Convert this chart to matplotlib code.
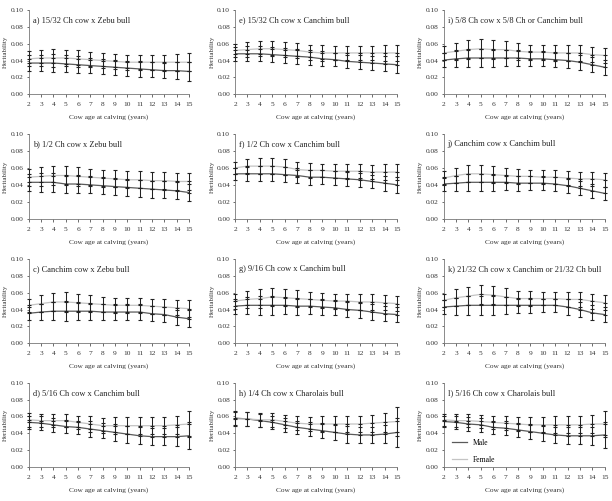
import numpy as np
import matplotlib
matplotlib.use("Agg")
import matplotlib.pyplot as plt

plt.rcParams.update({
    "font.family": "Liberation Serif",
    "axes.linewidth": 0.6,
})

ages = list(range(2, 16))

# ---------- data ----------
titles = {
    "a": "a) 15/32 Ch cow x Zebu bull",
    "b": "b) 1/2 Ch cow x Zebu bull",
    "c": "c) Canchim cow x Zebu bull",
    "d": "d) 5/16 Ch cow x Canchim bull",
    "e": "e) 15/32 Ch cow x Canchim bull",
    "f": "f) 1/2 Ch cow x Canchim bull",
    "g": "g) 9/16 Ch cow x Canchim bull",
    "h": "h) 1/4 Ch cow x Charolais bull",
    "i": "i) 5/8 Ch cow x 5/8 Ch or Canchim bull",
    "j": "j) Canchim cow x Canchim bull",
    "k": "k) 21/32 Ch cow x Canchim or 21/32 Ch bull",
    "l": "l) 5/16 Ch cow x Charolais bull",
}

male = {
    "a": [0.037, 0.037, 0.037, 0.036, 0.035, 0.034, 0.033, 0.032, 0.031, 0.030, 0.029, 0.028, 0.028, 0.027],
    "b": [0.043, 0.043, 0.043, 0.041, 0.041, 0.040, 0.039, 0.038, 0.037, 0.036, 0.035, 0.034, 0.033, 0.031],
    "c": [0.0355, 0.037, 0.038, 0.038, 0.038, 0.038, 0.037, 0.037, 0.037, 0.037, 0.035, 0.034, 0.031, 0.029],
    "d": [0.053, 0.052, 0.050, 0.048, 0.047, 0.045, 0.043, 0.041, 0.039, 0.037, 0.036, 0.036, 0.036, 0.037],
    "e": [0.048, 0.048, 0.048, 0.047, 0.046, 0.045, 0.044, 0.042, 0.041, 0.039, 0.038, 0.037, 0.036, 0.035],
    "f": [0.053, 0.053, 0.053, 0.053, 0.052, 0.051, 0.049, 0.049, 0.048, 0.047, 0.046, 0.044, 0.042, 0.040],
    "g": [0.044, 0.045, 0.045, 0.045, 0.045, 0.044, 0.044, 0.043, 0.042, 0.040, 0.039, 0.037, 0.035, 0.034],
    "h": [0.058, 0.057, 0.055, 0.053, 0.050, 0.047, 0.045, 0.043, 0.041, 0.039, 0.038, 0.038, 0.039, 0.041],
    "i": [0.0405, 0.042, 0.043, 0.043, 0.043, 0.043, 0.043, 0.042, 0.042, 0.041, 0.040, 0.038, 0.035, 0.032],
    "j": [0.041, 0.042, 0.043, 0.043, 0.043, 0.043, 0.042, 0.042, 0.042, 0.041, 0.039, 0.036, 0.033, 0.030],
    "k": [0.043, 0.044, 0.045, 0.045, 0.045, 0.045, 0.045, 0.045, 0.045, 0.045, 0.043, 0.040, 0.036, 0.034],
    "l": [0.054, 0.053, 0.051, 0.050, 0.047, 0.046, 0.044, 0.042, 0.040, 0.038, 0.037, 0.037, 0.037, 0.038],
}

female = {
    "a": [0.042, 0.043, 0.043, 0.043, 0.042, 0.041, 0.040, 0.039, 0.038, 0.038, 0.038, 0.038, 0.038, 0.038],
    "b": [0.049, 0.050, 0.051, 0.051, 0.050, 0.049, 0.048, 0.047, 0.046, 0.046, 0.045, 0.045, 0.044, 0.044],
    "c": [0.045, 0.047, 0.049, 0.049, 0.048, 0.047, 0.046, 0.045, 0.045, 0.045, 0.044, 0.043, 0.042, 0.041],
    "d": [0.056, 0.055, 0.055, 0.055, 0.053, 0.051, 0.049, 0.049, 0.049, 0.049, 0.049, 0.049, 0.050, 0.051],
    "e": [0.052, 0.053, 0.054, 0.054, 0.053, 0.052, 0.050, 0.049, 0.049, 0.049, 0.049, 0.049, 0.049, 0.049],
    "f": [0.060, 0.062, 0.062, 0.062, 0.061, 0.058, 0.057, 0.057, 0.056, 0.056, 0.056, 0.055, 0.055, 0.055],
    "g": [0.050, 0.052, 0.053, 0.055, 0.054, 0.053, 0.052, 0.051, 0.050, 0.050, 0.049, 0.049, 0.048, 0.047],
    "h": [0.057, 0.057, 0.056, 0.056, 0.054, 0.052, 0.051, 0.051, 0.051, 0.051, 0.051, 0.052, 0.053, 0.054],
    "i": [0.049, 0.051, 0.053, 0.054, 0.053, 0.053, 0.051, 0.050, 0.050, 0.049, 0.049, 0.049, 0.047, 0.046],
    "j": [0.048, 0.051, 0.053, 0.053, 0.052, 0.051, 0.050, 0.050, 0.049, 0.049, 0.048, 0.047, 0.047, 0.046],
    "k": [0.051, 0.054, 0.056, 0.058, 0.057, 0.055, 0.053, 0.053, 0.053, 0.053, 0.052, 0.052, 0.050, 0.048],
    "l": [0.056, 0.055, 0.055, 0.054, 0.053, 0.052, 0.051, 0.050, 0.050, 0.050, 0.050, 0.050, 0.051, 0.051],
}

err = {
    "a": [0.009, 0.010, 0.011, 0.010, 0.010, 0.009, 0.009, 0.009, 0.009, 0.009, 0.009, 0.009, 0.010, 0.011],
    "b": [0.010, 0.011, 0.011, 0.011, 0.011, 0.010, 0.010, 0.010, 0.010, 0.010, 0.010, 0.010, 0.010, 0.010],
    "c": [0.008, 0.010, 0.011, 0.012, 0.011, 0.010, 0.009, 0.009, 0.009, 0.009, 0.009, 0.009, 0.009, 0.010],
    "d": [0.008, 0.008, 0.008, 0.008, 0.008, 0.009, 0.009, 0.010, 0.010, 0.010, 0.010, 0.010, 0.011, 0.016],
    "e": [0.008, 0.009, 0.009, 0.009, 0.009, 0.009, 0.009, 0.009, 0.008, 0.008, 0.008, 0.008, 0.009, 0.010],
    "f": [0.007, 0.008, 0.009, 0.009, 0.009, 0.009, 0.009, 0.008, 0.008, 0.008, 0.008, 0.008, 0.009, 0.009],
    "g": [0.009, 0.010, 0.011, 0.011, 0.010, 0.010, 0.009, 0.009, 0.009, 0.009, 0.009, 0.009, 0.009, 0.009],
    "h": [0.008, 0.008, 0.008, 0.008, 0.008, 0.008, 0.008, 0.009, 0.009, 0.010, 0.010, 0.010, 0.011, 0.017],
    "i": [0.008, 0.010, 0.011, 0.011, 0.011, 0.010, 0.010, 0.009, 0.009, 0.009, 0.009, 0.009, 0.009, 0.009],
    "j": [0.008, 0.009, 0.010, 0.010, 0.010, 0.009, 0.009, 0.008, 0.008, 0.008, 0.008, 0.008, 0.008, 0.008],
    "k": [0.008, 0.010, 0.011, 0.011, 0.011, 0.010, 0.009, 0.009, 0.008, 0.008, 0.009, 0.009, 0.009, 0.009],
    "l": [0.007, 0.008, 0.008, 0.008, 0.008, 0.008, 0.008, 0.009, 0.009, 0.010, 0.010, 0.010, 0.011, 0.015],
}

yticks = [0.00, 0.02, 0.04, 0.06, 0.08, 0.10]

# panel grid: columns hold a-d, e-h, i-l
layout = [["a", "e", "i"], ["b", "f", "j"], ["c", "g", "k"], ["d", "h", "l"]]
col_left = [0.047, 0.384, 0.725]
col_w = [0.262, 0.265, 0.263]
row_bottom = [0.812, 0.563, 0.315, 0.068]
row_h = [0.168, 0.170, 0.168, 0.168]

MALE_C = "#5a5a5a"
FEMALE_C = "#c4c4c4"

fig = plt.figure(figsize=(6.12, 5.01), dpi=100)

for r, row in enumerate(layout):
    for c, key in enumerate(row):
        ax = fig.add_axes([col_left[c], row_bottom[r], col_w[c], row_h[r]])
        ax.plot(ages, male[key], color=MALE_C, lw=0.9, label="Male", zorder=2)
        ax.plot(ages, female[key], color=FEMALE_C, lw=0.9, label="Female", zorder=2)
        for vals in (female[key], male[key]):
            ax.errorbar(ages, vals, yerr=err[key], fmt="_", ms=2.5, mew=0.8,
                        color="#222222", ecolor="#222222", elinewidth=0.75,
                        capsize=1.7, capthick=0.75, clip_on=False, zorder=3)
        ax.set_xlim(2, 15)
        ax.set_ylim(0, 0.10)
        ax.set_xticks(ages)
        ax.set_yticks(yticks)
        ax.set_yticklabels([f"{v:.2f}" for v in yticks])
        ax.tick_params(labelsize=5.3, length=1.8, width=0.5, pad=1.8, colors="#333333")
        ax.tick_params(axis="x", pad=4)
        for s in ("top", "right"):
            ax.spines[s].set_visible(False)
        for s in ("left", "bottom"):
            ax.spines[s].set_color("#777777")
        ax.set_xlabel("Cow age at calving (years)", fontsize=5.3, labelpad=5, color="#333333")
        ax.set_ylabel("Heritability", fontsize=5, labelpad=2, color="#333333")
        ax.text(0.025, 0.88, titles[key], transform=ax.transAxes, fontsize=6,
                va="center", ha="left", color="#222222")
        if key == "l":
            ax.legend(loc="lower left", frameon=False, fontsize=5.5,
                      handlelength=2.0, labelspacing=1.2, borderaxespad=0.2,
                      bbox_to_anchor=(0.02, -0.02))

fig.savefig("out.png", dpi=100)
